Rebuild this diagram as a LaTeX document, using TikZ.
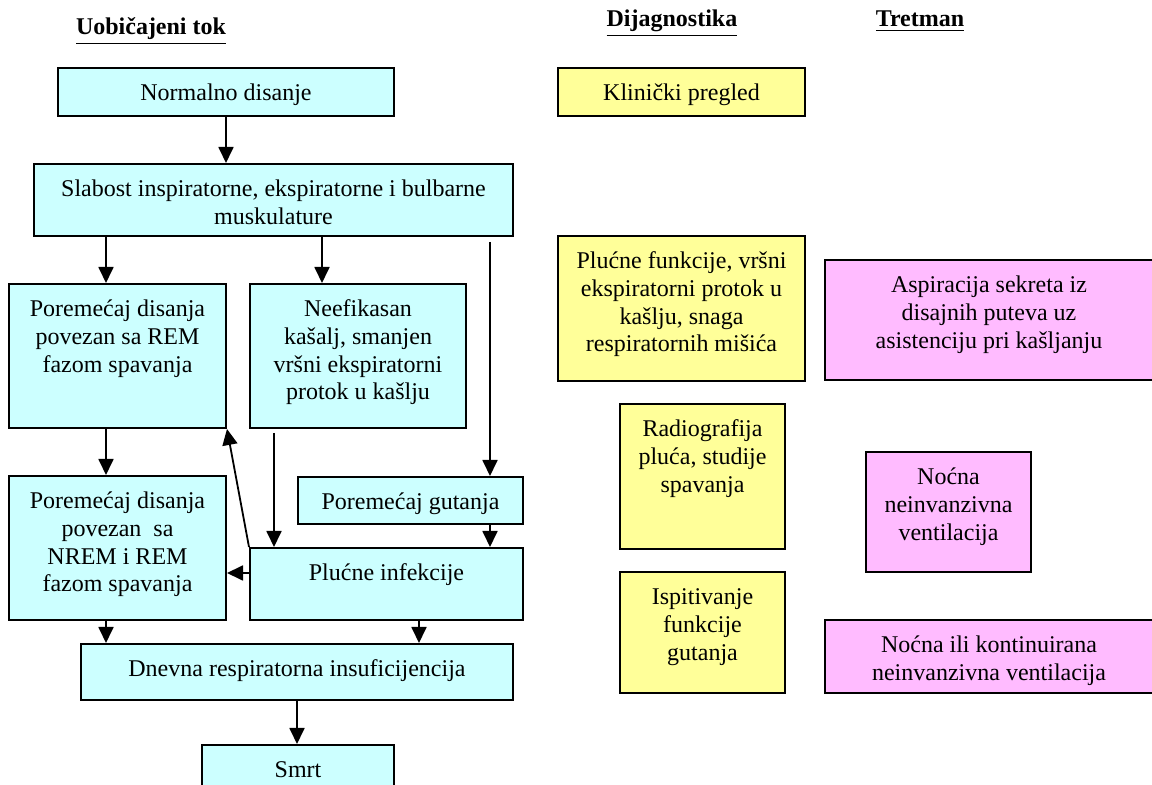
\documentclass[tikz,border=0pt]{standalone}
\usepackage{fontspec}
\setmainfont{Liberation Serif}
\usetikzlibrary{arrows.meta}

\definecolor{tokcyan}{HTML}{CCFFFF}
\definecolor{dijyellow}{HTML}{FFFF99}
\definecolor{tretpink}{HTML}{FFBBFF}

% text of a box: width, height, lines
\newcommand{\boxtext}[3]{\parbox[t][#2][t]{#1}{\centering\rule{0pt}{16.5pt}#3}}

\tikzset{
  box/.style={draw=black, line width=1pt, inner sep=0pt, anchor=north west,
    font=\fontsize{12pt}{13.8pt}\selectfont},
  tokbox/.style={box, fill=tokcyan},
  dijbox/.style={box, fill=dijyellow},
  tretbox/.style={box, fill=tretpink},
  head/.style={anchor=base, font=\fontsize{12pt}{13.8pt}\selectfont\bfseries},
  arr/.style={-{Triangle[length=8pt,width=7.5pt]}, line width=0.9pt}
}

\begin{document}
\begin{tikzpicture}[x=0.5pt,y=-0.5pt]
\useasboundingbox (0,0) rectangle (1152,785);

% Draw the headings
\node[head] (hdtok) at (151,35) {\underline{Uobičajeni tok}};
\node[head] (hddij) at (672,27) {\underline{Dijagnostika}};
\node[head] (hdtret) at (920,27) {\underline{Tretman}};

% Draw the usual course
\node[tokbox] (norm) at (57,67) {\boxtext{168pt}{24pt}{Normalno disanje}};
\node[tokbox] (slab) at (33,163) {\boxtext{239.5pt}{36pt}{Slabost inspiratorne, ekspiratorne i bulbarne\\muskulature}};
\node[tokbox] (rem) at (8,283) {\boxtext{108.5pt}{72pt}{Poremećaj disanja\\povezan sa REM\\fazom spavanja}};
\node[tokbox] (nef) at (249,283) {\boxtext{108pt}{72pt}{Neefikasan\\kašalj, smanjen\\vršni ekspiratorni\\protok u kašlju}};
\node[tokbox] (gut) at (297,476) {\boxtext{112.5pt}{23.5pt}{Poremećaj gutanja}};
\node[tokbox] (nrem) at (8,475) {\boxtext{108.5pt}{72pt}{Poremećaj disanja\\povezan\ \ sa\\NREM i REM\\fazom spavanja}};
\node[tokbox] (inf) at (249,547) {\boxtext{136.5pt}{36pt}{Plućne infekcije}};
\node[tokbox] (dnev) at (80,643) {\boxtext{216pt}{28pt}{Dnevna respiratorna insuficijencija}};
\node[tokbox] (smrt) at (201,744) {\boxtext{96pt}{26pt}{Smrt}};

% Draw the diagnostics
\node[dijbox] (klin) at (557,67) {\boxtext{123.5pt}{24pt}{Klinički pregled}};
\node[dijbox] (pfun) at (557,235) {\boxtext{123.5pt}{72.5pt}{Plućne funkcije, vršni\\ekspiratorni protok u\\kašlju, snaga\\respiratornih mišića}};
\node[dijbox] (rad) at (619,403) {\boxtext{82.5pt}{72.5pt}{Radiografija\\pluća, studije\\spavanja}};
\node[dijbox] (isp) at (619,571) {\boxtext{82.5pt}{60.5pt}{Ispitivanje\\funkcije\\gutanja}};

% Draw the treatment
\node[tretbox] (asp) at (824,259) {\boxtext{164pt}{60pt}{Aspiracija sekreta iz\\disajnih puteva uz\\asistenciju pri kašljanju}};
\node[tretbox] (noc) at (865,451) {\boxtext{82.5pt}{60pt}{Noćna\\neinvanzivna\\ventilacija}};
\node[tretbox] (nocili) at (824,619) {\boxtext{164pt}{36.5pt}{Noćna ili kontinuirana\\neinvanzivna ventilacija}};

% Draw the arrows
\draw[arr] (norm.south) -- (norm.south |- slab.north);
\draw[arr] ([xshift=-5.75pt]rem.north |- slab.south) -- ([xshift=-5.75pt]rem.north);
\draw[arr] ([xshift=-18pt]nef.north |- slab.south) -- ([xshift=-18pt]nef.north);
\draw[arr, shorten <=2.5pt] ([xshift=39.75pt]gut.north |- slab.south) -- ([xshift=39.75pt]gut.north);
\draw[arr] ([xshift=-5.75pt]rem.south) -- ([xshift=-5.75pt]nrem.north);
\draw[arr, shorten <=2pt] ([xshift=-56.25pt]inf.north |- nef.south) -- ([xshift=-56.25pt]inf.north);
\draw[arr] ([xshift=39.75pt]gut.south) -- ([xshift=39.75pt]gut.south |- inf.north);
\draw[arr] (inf.north west) -- (rem.south east);
\draw[arr] ([yshift=5.5pt]inf.west) -- ([yshift=5.5pt]inf.west -| nrem.east);
\draw[arr] ([xshift=-5.75pt]nrem.south) -- ([xshift=-5.75pt]nrem.south |- dnev.north);
\draw[arr] ([xshift=16.25pt]inf.south) -- ([xshift=16.25pt]inf.south |- dnev.north);
\draw[arr] (dnev.south) -- (dnev.south |- smrt.north);

\end{tikzpicture}
\end{document}
